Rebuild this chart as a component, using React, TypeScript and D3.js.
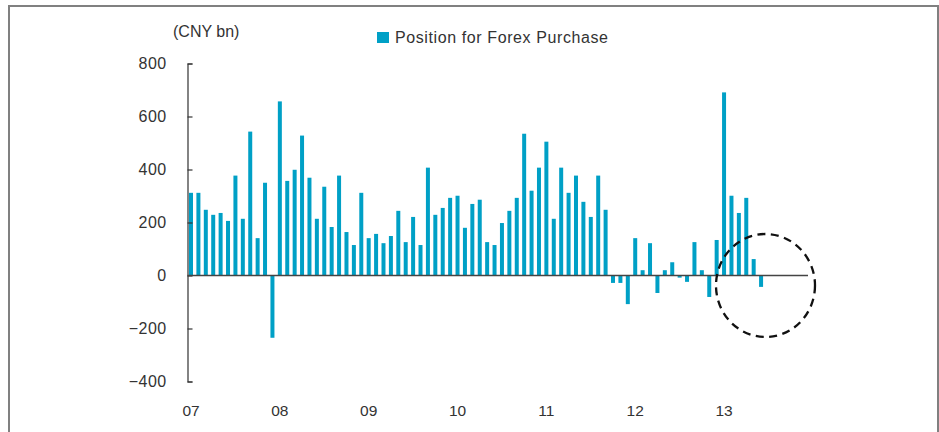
import React, { useEffect, useRef } from "react";
import * as d3 from "d3";

// monthly values, Jan 2007 .. Jun 2013 (CNY bn)
const years = ["07", "08", "09", "10", "11", "12", "13"];
const forexPurchase = [
  312, 312, 248, 229, 236, 206, 377, 214, 543, 141, 350, -235,
  657, 357, 399, 528, 369, 214, 335, 183, 377, 164, 115, 312,
  141, 157, 122, 149, 244, 126, 221, 115, 407, 229, 255, 293,
  301, 180, 270, 286, 126, 115, 198, 244, 293, 535, 320, 407,
  505, 214, 407, 312, 377, 278, 221, 377, 248, -28, -28, -108,
  141, 20, 122, -66, 20, 50, -8, -24, 126, 20, -81, 134,
  691, 301, 236, 293, 62, -43,
];
const yTicks = [-400, -200, 0, 200, 400, 600, 800];
const seriesName = "Position for Forex Purchase";
const unitLabel = "(CNY bn)";

const W = 939;
const H = 432;
const barColor = "#00a0c6";
const font = "'Liberation Sans', Arial, sans-serif";

function ForexChart() {
  const svgRef = useRef<SVGSVGElement>(null);

  useEffect(() => {
    const svg = d3.select(svgRef.current);
    svg.selectAll("*").remove();

    // every month of the axis (7 years), bars only for the ones we have
    const months: string[] = [];
    years.forEach((yr) => d3.range(12).forEach((m) => months.push(yr + "-" + m)));

    const x = d3
      .scaleBand<string>()
      .domain(months)
      .range([187.3, 809.2])
      .paddingInner(0.46)
      .paddingOuter(0.23);

    const y = d3.scaleLinear().domain([-400, 800]).range([381.5, 63.5]);

    // outer frame
    svg.append("rect")
      .attr("x", 9)
      .attr("y", 6)
      .attr("width", 929)
      .attr("height", 440)
      .attr("fill", "none")
      .attr("stroke", "#808080")
      .attr("stroke-width", 2);

    // bars
    svg.append("g")
      .selectAll("rect")
      .data(forexPurchase)
      .join("rect")
      .attr("x", (_, i) => x(months[i])!)
      .attr("y", (v) => y(Math.max(0, v)))
      .attr("width", x.bandwidth())
      .attr("height", (v) => Math.abs(y(v) - y(0)))
      .attr("fill", barColor);

    // y axis, ticks pointing inside
    const yAxis = d3.axisLeft(y).tickValues(yTicks).tickSize(-5).tickPadding(21);
    const gy = svg.append("g")
      .attr("transform", "translate(187.5,0)")
      .call(yAxis);
    gy.select(".domain").attr("stroke", "#333").attr("stroke-width", 1.2);
    gy.selectAll(".tick line").attr("stroke", "#333").attr("stroke-width", 1.2);
    gy.selectAll(".tick text")
      .attr("font-family", font)
      .attr("font-size", 16)
      .attr("letter-spacing", 0.4)
      .attr("fill", "#333");

    // zero line
    svg.append("line")
      .attr("x1", 187.5)
      .attr("x2", 808)
      .attr("y1", y(0))
      .attr("y2", y(0))
      .attr("stroke", "#444")
      .attr("stroke-width", 1.5);

    // year labels under the January bars
    const xAxis = d3
      .axisBottom(x)
      .tickValues(years.map((yr) => yr + "-0"))
      .tickFormat((d) => d.split("-")[0])
      .tickSize(0)
      .tickPadding(5);
    const gx = svg.append("g").attr("transform", "translate(0,400)").call(xAxis);
    gx.select(".domain").remove();
    gx.selectAll(".tick text")
      .attr("font-family", font)
      .attr("font-size", 15.5)
      .attr("fill", "#333");

    // unit
    svg.append("text")
      .attr("x", 173)
      .attr("y", 37)
      .attr("font-family", font)
      .attr("font-size", 16)
      .attr("fill", "#333")
      .text(unitLabel);

    // legend
    svg.append("rect")
      .attr("x", 377)
      .attr("y", 32)
      .attr("width", 12)
      .attr("height", 11)
      .attr("fill", barColor);
    svg.append("text")
      .attr("x", 395)
      .attr("y", 43)
      .attr("font-family", font)
      .attr("font-size", 16)
      .attr("letter-spacing", 0.6)
      .attr("fill", "#333")
      .text(seriesName);

    // dashed highlight circle
    svg.append("ellipse")
      .attr("cx", 765.5)
      .attr("cy", 285.5)
      .attr("rx", 49.5)
      .attr("ry", 51.5)
      .attr("fill", "none")
      .attr("stroke", "#111")
      .attr("stroke-width", 2.3)
      .attr("stroke-dasharray", "8,5.5");
  }, []);

  return <svg ref={svgRef} width={W} height={H} style={{ display: "block" }} />;
}

export default function App() {
  return (
    <div style={{ position: "absolute", left: 0, top: 0, background: "#fff" }}>
      <ForexChart />
    </div>
  );
}
